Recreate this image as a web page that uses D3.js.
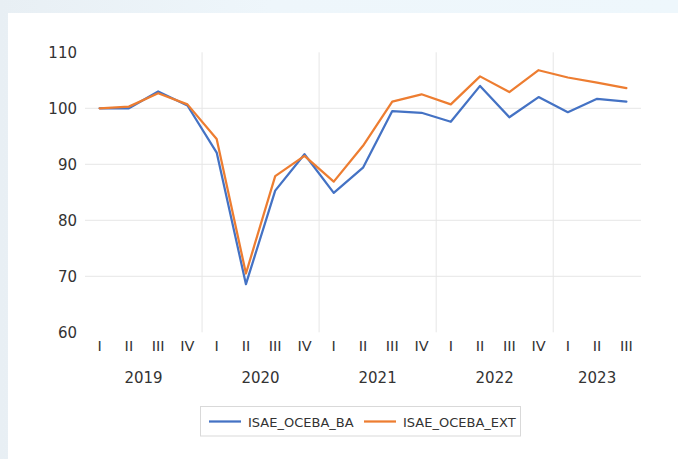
<!DOCTYPE html>
<html>
<head>
<meta charset="utf-8">
<script src="https://cdn.jsdelivr.net/npm/d3@7"></script>
<style>
  html, body { margin: 0; padding: 0; }
  body { width: 678px; height: 459px; overflow: hidden; background: #fff; }
  svg { display: block; font-family: "DejaVu Sans", sans-serif; }
</style>
</head>
<body>
<svg id="chart" width="678" height="459"></svg>
<script>
// quarterly index, 2019 Q1 .. 2023 Q3
const quarters = ['I', 'II', 'III', 'IV', 'I', 'II', 'III', 'IV', 'I', 'II', 'III', 'IV',
  'I', 'II', 'III', 'IV', 'I', 'II', 'III'];
const years = ['2019', '2020', '2021', '2022', '2023'];
const yearOfPoint = [0, 0, 0, 0, 1, 1, 1, 1, 2, 2, 2, 2, 3, 3, 3, 3, 4, 4, 4];
const isaeBa = [100.0, 100.0, 103.0, 100.5, 92.1, 68.6, 85.3, 91.8, 84.9, 89.4,
  99.5, 99.2, 97.6, 104.0, 98.4, 102.0, 99.3, 101.7, 101.2];
const isaeExt = [100.0, 100.3, 102.7, 100.7, 94.5, 70.5, 87.9, 91.5, 86.9, 93.3,
  101.2, 102.5, 100.7, 105.7, 102.9, 106.8, 105.5, 104.6, 103.6];
const yTicks = [60, 70, 80, 90, 100, 110];
const series = [
  { name: 'ISAE_OCEBA_BA', values: isaeBa, color: '#4472C4' },
  { name: 'ISAE_OCEBA_EXT', values: isaeExt, color: '#ED7D31' }
];

const svg = d3.select('#chart');
const textColor = '#333333';

// page background behind the white card
const defs = svg.append('defs');
const bg = defs.append('linearGradient').attr('id', 'bg').attr('x1', 0).attr('y1', 0).attr('x2', 1).attr('y2', 0);
bg.append('stop').attr('offset', '0%').attr('stop-color', '#e8eff4');
bg.append('stop').attr('offset', '40%').attr('stop-color', '#eef6fb');
bg.append('stop').attr('offset', '100%').attr('stop-color', '#eef7fc');
svg.append('rect').attr('width', 678).attr('height', 459).attr('fill', 'url(#bg)');
svg.append('rect').attr('x', 8).attr('y', 13).attr('width', 670).attr('height', 446).attr('fill', '#fff');

const plot = { left: 85, right: 641, top: 52.3, bottom: 332.3 };
const idx = d3.range(quarters.length);

const x = d3.scaleBand().domain(idx).range([plot.left, plot.right]).padding(0);
const y = d3.scaleLinear().domain([60, 110]).range([plot.bottom, plot.top]);
const cx = i => x(i) + x.bandwidth() / 2;

// horizontal gridlines
svg.append('g')
  .selectAll('line')
  .data(yTicks.filter(t => t > 60 && t < 110))
  .join('line')
  .attr('x1', plot.left).attr('x2', plot.right)
  .attr('y1', d => y(d)).attr('y2', d => y(d))
  .attr('stroke', '#e6e6e6').attr('stroke-width', 1);

// year separators
const boundaries = idx.filter(i => i > 0 && yearOfPoint[i] !== yearOfPoint[i - 1]);
svg.append('g')
  .selectAll('line')
  .data(boundaries)
  .join('line')
  .attr('x1', d => x(d)).attr('x2', d => x(d))
  .attr('y1', plot.top).attr('y2', plot.bottom)
  .attr('stroke', '#e6e6e6').attr('stroke-width', 1);

// y axis labels
const yAxis = d3.axisLeft(y).tickValues(yTicks).tickSize(0).tickPadding(7);
const yg = svg.append('g').attr('transform', `translate(${plot.left - 1},0)`).call(yAxis);
yg.select('.domain').remove();
yg.selectAll('text').attr('font-size', 15).attr('fill', textColor).attr('font-family', '"DejaVu Sans", sans-serif');

// quarter labels
const xAxis = d3.axisBottom(x).tickFormat(i => quarters[i]).tickSize(0).tickPadding(8);
const xg = svg.append('g').attr('transform', `translate(0,${plot.bottom})`).call(xAxis);
xg.select('.domain').remove();
xg.selectAll('text').attr('font-size', 14.5).attr('fill', textColor).attr('font-family', '"DejaVu Sans", sans-serif');

// year labels, centred under their quarters
svg.append('g')
  .selectAll('text')
  .data(years)
  .join('text')
  .attr('x', (d, k) => {
    const members = idx.filter(i => yearOfPoint[i] === k);
    return (x(members[0]) + x(members[members.length - 1]) + x.bandwidth()) / 2;
  })
  .attr('y', 383)
  .attr('text-anchor', 'middle')
  .attr('font-size', 15)
  .attr('fill', textColor)
  .text(d => d);

// lines
const line = d3.line().x((v, i) => cx(i)).y(v => y(v));
svg.append('g')
  .selectAll('path')
  .data(series)
  .join('path')
  .attr('d', d => line(d.values))
  .attr('fill', 'none')
  .attr('stroke', d => d.color)
  .attr('stroke-width', 2.25)
  .attr('stroke-linejoin', 'round')
  .attr('stroke-linecap', 'round');

// legend
const legend = svg.append('g');
legend.append('rect')
  .attr('x', 200.5).attr('y', 406.5).attr('width', 320).attr('height', 29.5)
  .attr('fill', '#fff').attr('stroke', '#d9d9d9').attr('stroke-width', 1);
const legendX = [209, 364];
const items = legend.selectAll('g.item').data(series).join('g').attr('class', 'item')
  .attr('transform', (d, i) => `translate(${legendX[i]},421.5)`);
items.append('line').attr('x1', 0).attr('x2', 32).attr('y1', 0).attr('y2', 0)
  .attr('stroke', d => d.color).attr('stroke-width', 2.25);
items.append('text').attr('x', 39).attr('y', 5).attr('font-size', 13)
  .attr('fill', textColor).text(d => d.name);
</script>
</body>
</html>
